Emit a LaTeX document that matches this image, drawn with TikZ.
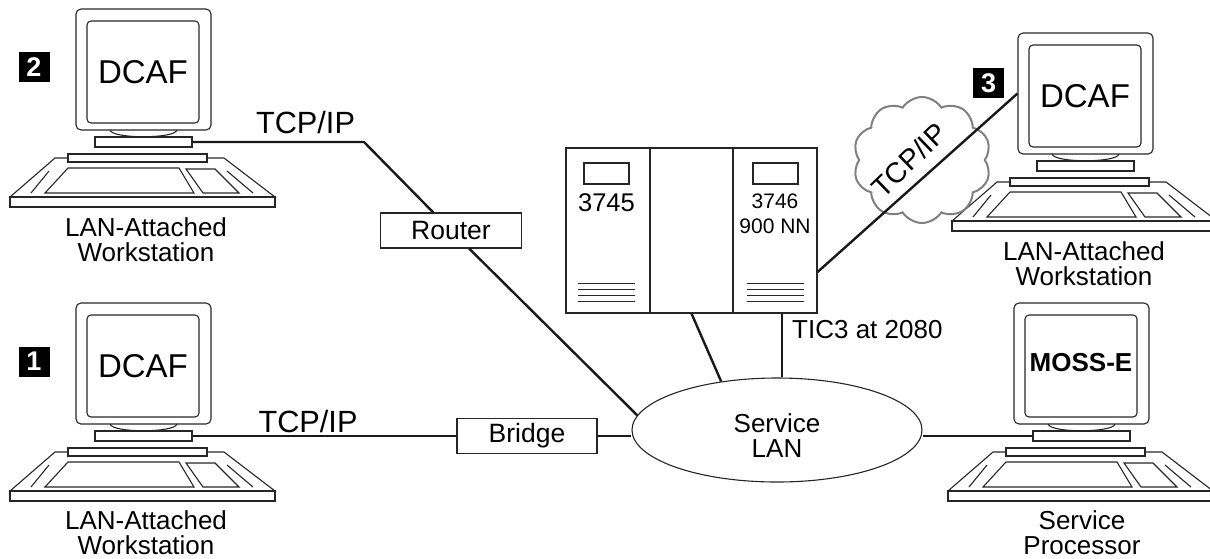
\documentclass[tikz,border=0pt]{standalone}
\usepackage{fontspec}
\setmainfont{Liberation Sans}
\usetikzlibrary{shapes.geometric,shapes.symbols}
\newcommand\setfs[2][]{\fontsize{#2}{\ifx&#1&#2\else#1\fi}\selectfont}

\tikzset{
  icon/.style={draw=black!85, line width=1.1pt},
  link/.style={draw=black!90, line width=2.4pt},
  lbl/.style={inner sep=0pt, align=center, font=\setfs[25]{26}},
  boxnode/.style={draw=black!85, line width=1.1pt, fill=white, inner sep=0pt,
    minimum width=141pt, minimum height=35pt, font=\setfs{26.5}},
  badge/.style={fill=black, text=white, inner sep=0pt, minimum width=31pt,
    minimum height=30pt, font=\bfseries\setfs{27}},
  section/.style={draw=black!85, line width=1.1pt, inner sep=0pt,
    minimum height=165pt},
  % desktop workstation: keyboard, monitor with screen text, base bar
  pics/workstation/.style={code={
    \draw[icon] (55,158) -- (224,158) -- (275,197) -- (10,197) -- cycle;
    \draw[icon] (10,197) rectangle (275,207);
    \draw[icon] (68,168) -- (179,168) -- (194,193) -- (45,193) -- cycle;
    \draw[icon] (186,169) -- (215,169) -- (239,193) -- (203,193) -- cycle;
    \draw[icon] (49,171) -- (31,193) (227,171) -- (253,193);
    \draw[icon, fill=white] (68,154) rectangle (207,162);
    \node[icon, rounded corners=5pt, minimum width=135pt, minimum height=121pt,
      inner sep=0pt] (-mon) at (143.5,69.5) {};
    \node[icon, rounded corners=4pt, minimum width=112pt, minimum height=102pt,
      inner sep=0pt] (-scr) at (143,72) {#1};
    \draw[icon] (110,130) .. controls (112,139) and (175,139) .. (177,130);
    \node[icon, fill=white, minimum width=97pt, minimum height=10pt,
      inner sep=0pt] (-base) at (143.5,142) {};
  }}
}

\begin{document}
\begin{tikzpicture}[x=1pt, y=-1pt]
\useasboundingbox (0,0) rectangle (1210,558);

% workstations
\pic (ws2) at (0,0)     {workstation={\setfs{33}DCAF}};
\pic (ws1) at (0,294)   {workstation={\setfs{33}DCAF}};
\pic (ws3) at (942,24)  {workstation={\setfs{33}DCAF}};
\pic (sp)  at (938,294) {workstation={\bfseries\setfs{26}\raisebox{8pt}{MOSS-E}}};

\node[lbl, anchor=north] (ws2-lbl) at (146,217) {LAN-Attached\\Workstation};
\node[lbl, anchor=north] (ws1-lbl) at (146,510) {LAN-Attached\\Workstation};
\node[lbl, anchor=north] (ws3-lbl) at (1084,241) {LAN-Attached\\Workstation};
\node[lbl, anchor=north] (sp-lbl)  at (1082,510) {Service\\Processor};

% step markers
\node[badge] (b2) at (34,67)    {2};
\node[badge] (b1) at (34,361.5) {1};
\node[badge] (b3) at (988.5,83) {3};

% communication controller frame
\node[section, minimum width=84pt] (s3745) at (608,230.5) {};
\node[section, minimum width=83pt] (mid)   at (691.5,230.5) {};
\node[section, minimum width=84pt] (s3746) at (775,230.5) {};
\draw[icon] (584,163) rectangle (629,184);
\draw[icon] (753,163) rectangle (798,184);
\node[anchor=base, inner sep=0pt, font=\setfs{25.6}] (t3745) at (606.5,211) {3745};
\node[anchor=base, inner sep=0pt, font=\setfs{21}] (t3746) at (775,208) {3746};
\node[anchor=base, inner sep=0pt, font=\setfs{21}] (t900) at (775,233) {900 NN};
\foreach \y in {283,289,295,301} {
  \draw[icon, line width=0.9pt] (578,\y) -- (635,\y);
  \draw[icon, line width=0.9pt] (747,\y) -- (804,\y);
}

% LAN, router, bridge
\node[ellipse, draw=black!85, line width=1.1pt, inner sep=0pt,
  minimum width=290pt, minimum height=104pt] (lan) at (777,430) {};
\node[lbl] (lantext) at (777,436) {Service\\LAN};
\node[boxnode] (router) at (451,230.5) {Router};
\node[boxnode, minimum width=140pt] (bridge) at (527,436) {Bridge};

% cloud over the remote link
\node[cloud, cloud puffs=10, cloud puff arc=115, aspect=1.1, draw=black!50,
  line width=2pt, minimum width=138pt, minimum height=126pt] (cloud) at (922,160) {};
\node[rotate=44, inner sep=0pt, font=\setfs{28.5}] (cloudtxt) at (909,160) {TCP/IP};

% links
\coordinate (bend) at (364,142);
\draw[link] (ws2-base.east) -- (bend) -- (router);
\draw[link] (router) -- (lan.174);
\draw[link] (ws1-base.east) -- (bridge.west);
\draw[link] (bridge.east) -- (bridge.east -| lan.west);
\draw[link] (sp-base.west) -- (sp-base.west -| lan.east);
\draw[link] (mid.south) -- (lan.139);
\draw[link] ([xshift=7pt]s3746.south) -- ([xshift=7pt]s3746.south |- lan.north);
\draw[link] ([yshift=-41.5pt]s3746.east) -- (ws3-mon.west);

% link labels
\node[anchor=base, inner sep=0pt, font=\setfs{30.7}] (tcp2) at (305.5,133) {TCP/IP};
\node[anchor=base, inner sep=0pt, font=\setfs{30.7}] (tcp1) at (308,432) {TCP/IP};
\node[anchor=base west, inner sep=0pt, font=\setfs{26}] (tic) at (792,338) {TIC3 at 2080};
\end{tikzpicture}
\end{document}
